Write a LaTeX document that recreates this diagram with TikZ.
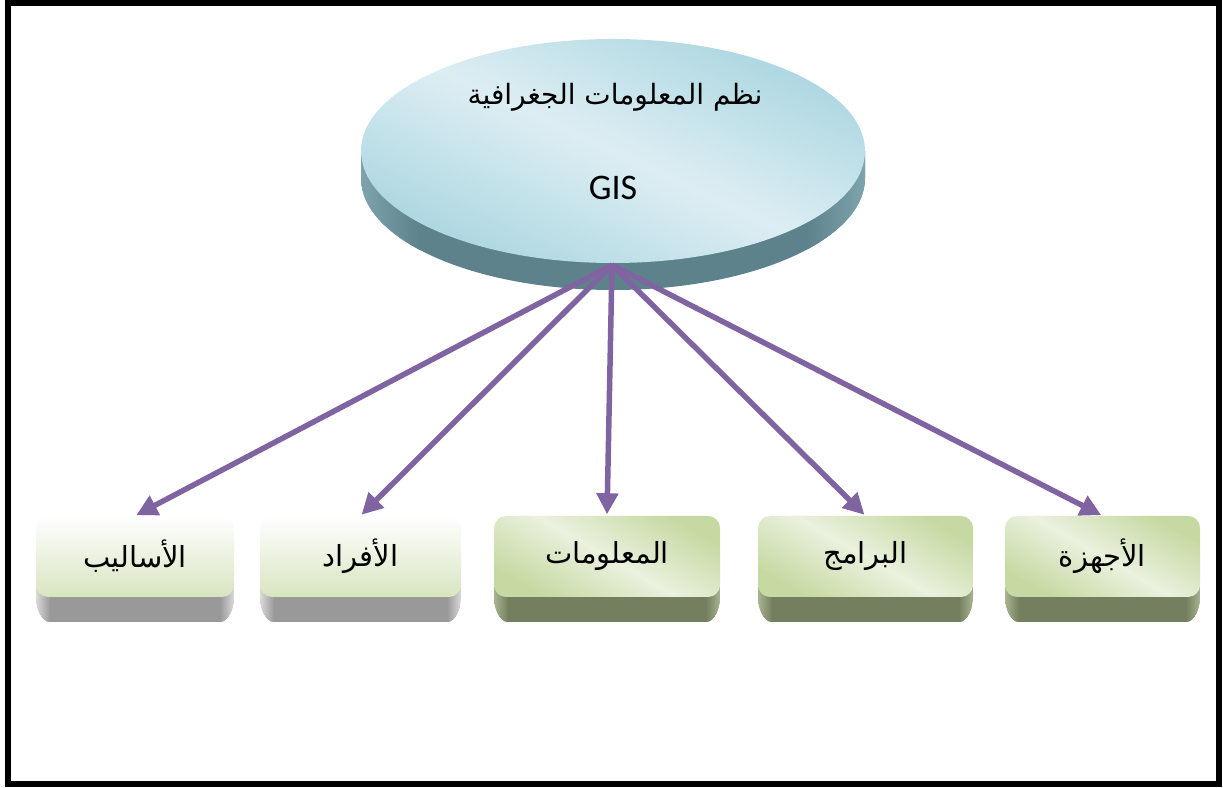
\documentclass[tikz,border=0pt]{standalone}
\usepackage{fontspec}
\newfontfamily\arabicfont[Script=Arabic]{DejaVu Sans}
\newfontfamily\latinfont{Carlito}
\TeXXeTstate=1
\usetikzlibrary{arrows.meta,shapes.geometric}

\definecolor{discdark}{HTML}{ABD6E1}
\definecolor{disclight}{HTML}{DDEEF3}
\definecolor{discside}{HTML}{5E828B}
\definecolor{discrim}{HTML}{7FA3AC}
\definecolor{greendark}{HTML}{C6D9A2}
\definecolor{greenlight}{HTML}{EAF1DE}
\definecolor{greenbottom}{HTML}{D8E5C0}
\definecolor{oliveside}{HTML}{737F5E}
\definecolor{oliverim}{HTML}{A9B591}
\definecolor{greyside}{HTML}{999999}
\definecolor{greyrim}{HTML}{DADADA}
\definecolor{linkpurple}{HTML}{8064A2}

% side of a key-shaped box: left x, right x, side colour, rim colour
\newcommand\keyside[4]{%
  \begin{scope}
    \clip (#1,200) -- (#1,190) .. controls (#1,180) and (#1+5,165) .. (#1+14,165)
      -- (#2-14,165) .. controls (#2-5,165) and (#2,180) .. (#2,190)
      -- (#2,200) -- cycle;
    \fill[#3] (#1,160) rectangle (#2,200);
    \shade[left color=#4, right color=#3] (#1,160) rectangle (#1+14,200);
    \shade[left color=#3, right color=#4] (#2-14,160) rectangle (#2,200);
  \end{scope}}

\tikzset{
  keytop/.style={rectangle, rounded corners=12pt, minimum height=81pt,
    inner sep=0pt, font=\arabicfont\fontsize{29}{34}\selectfont},
  paletop/.style={keytop, top color=white, bottom color=greenbottom},
  greentop/.style={keytop, left color=greendark, right color=greendark,
    middle color=greenlight, shading angle=150},
  link/.style={draw=linkpurple, line width=5.5pt,
    -{Triangle[length=21pt, width=21pt]}, shorten >=1.5pt},
}

\begin{document}
\begin{tikzpicture}[x=1pt, y=1pt]
\useasboundingbox (0,0) rectangle (1223,787);
\draw[line width=6pt] (8,3) rectangle (1219,784);

% disc: side band, then the top face
\begin{scope}
  \clip (361,636) -- (361,609)
    arc[start angle=180, end angle=360, x radius=252, y radius=112]
    -- (865,636) -- cycle;
  \fill[discside] (350,490) rectangle (880,640);
  \shade[left color=discrim, right color=discside] (361,490) rectangle (420,640);
  \shade[left color=discside, right color=discrim] (806,490) rectangle (865,640);
\end{scope}
\node[ellipse, minimum width=504pt, minimum height=224pt, inner sep=0pt,
  left color=discdark, right color=discdark, middle color=disclight,
  shading angle=155] (gis) at (613,636) {};
\node[font=\arabicfont\fontsize{28}{33}\selectfont] (title) at (615,690)
  {\beginR نظم المعلومات الجغرافية\endR};
\node[font=\latinfont\fontsize{36}{42}\selectfont] (gislabel) at (613,599) {GIS};
\coordinate (hub) at (612,522);

% key sides
\keyside{36}{234}{greyside}{greyrim}
\keyside{260}{461}{greyside}{greyrim}
\keyside{494}{720}{oliveside}{oliverim}
\keyside{758}{973}{oliveside}{oliverim}
\keyside{1005}{1200}{oliveside}{oliverim}

% key tops
\node[paletop, minimum width=198pt] (b1) at (135,230.5) {\beginR الأساليب\endR};
\node[paletop, minimum width=201pt] (b2) at (360.5,230.5) {\beginR الأفراد\endR};
\node[greentop, minimum width=226pt] (b3) at (607,230.5) {\beginR المعلومات\endR};
\node[greentop, minimum width=215pt] (b4) at (865.5,230.5) {\beginR البرامج\endR};
\node[greentop, minimum width=195pt] (b5) at (1102.5,230.5) {\beginR الأجهزة\endR};

% connectors
\foreach \b in {b1,b2,b3,b4,b5}
  \draw[link] (hub) -- (\b.north);
\end{tikzpicture}
\end{document}
